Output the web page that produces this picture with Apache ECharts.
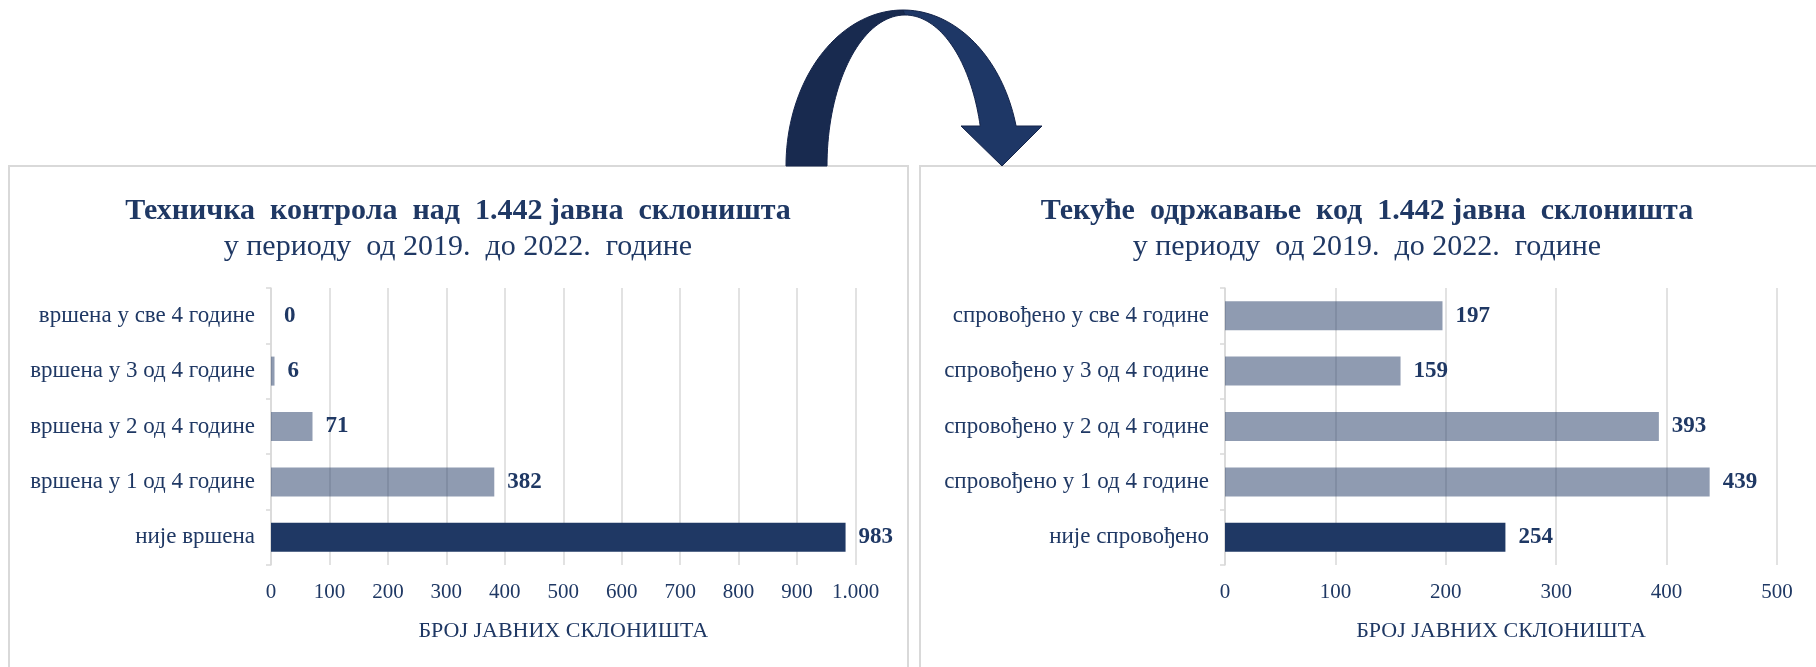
<!DOCTYPE html>
<html>
<head>
<meta charset="utf-8">
<script src="https://cdn.jsdelivr.net/npm/echarts@6/dist/echarts.min.js"></script>
<style>
html,body{margin:0;padding:0;background:#fff;}
#c{width:1816px;height:667px;}
</style>
</head>
<body>
<div id="c"></div>
<script>
// ---- data ----
const leftTitle = 'Техничка  контрола  над  1.442 јавна  склоништа';
const rightTitle = 'Текуће  одржавање  код  1.442 јавна  склоништа';
const subTitle = 'у периоду  од 2019.  до 2022.  године';
const axisName = 'БРОЈ ЈАВНИХ СКЛОНИШТА';

const leftCategories = ['вршена у све 4 године', 'вршена у 3 од 4 године', 'вршена у 2 од 4 године', 'вршена у 1 од 4 године', 'није вршена'];
const leftValues = [0, 6, 71, 382, 983];

const rightCategories = ['спровођено у све 4 године', 'спровођено у 3 од 4 године', 'спровођено у 2 од 4 године', 'спровођено у 1 од 4 године', 'није спровођено'];
const rightValues = [197, 159, 393, 439, 254];

const leftTicks = {min: 0, max: 1000, interval: 100};
const rightTicks = {min: 0, max: 500, interval: 100};

// ---- style ----
const NAVY = '#1F3864';
const LIGHT = 'rgba(31,56,100,0.5)';
const GRIDC = '#d9d9d9';
const FONT = "'Liberation Serif', 'Times New Roman', serif";

function fmt(v){ return v >= 1000 ? (Math.floor(v/1000) + '.' + String(v % 1000).padStart(3,'0')) : String(v); }

function barData(values){
  return values.map((v, i) => ({
    value: v,
    itemStyle: {color: i === values.length - 1 ? NAVY : LIGHT}
  }));
}

function xAxisCfg(gridIndex, t){
  return {
    type: 'value', gridIndex, min: t.min, max: t.max, interval: t.interval,
    name: axisName, nameLocation: 'middle', nameGap: 55,
    nameTextStyle: {fontFamily: FONT, fontSize: 22, color: NAVY},
    axisLine: {show: false}, axisTick: {show: false},
    axisLabel: {fontFamily: FONT, fontSize: 21, color: NAVY, margin: 17, formatter: fmt},
    splitLine: {show: true, lineStyle: {color: GRIDC, width: 1.5}}
  };
}
function yAxisCfg(gridIndex, cats){
  return {
    type: 'category', gridIndex, data: cats, inverse: true,
    axisLine: {show: true, lineStyle: {color: GRIDC, width: 1.5}},
    axisTick: {show: true, length: 5, lineStyle: {color: GRIDC, width: 1.5}},
    axisLabel: {fontFamily: FONT, fontSize: 23, color: NAVY, margin: 16},
    splitLine: {show: false}
  };
}
function seriesCfg(idx, values){
  return {
    type: 'bar', xAxisIndex: idx, yAxisIndex: idx, data: barData(values),
    barWidth: 29,
    label: {show: true, position: 'right', distance: 13, fontFamily: FONT, fontWeight: 'bold', fontSize: 23, color: NAVY},
    silent: true
  };
}

// decorative curved arrow outline (elliptical arcs)
function arcPts(cx, cy, rx, ry, a0, a1, n){
  const pts = [];
  for (let k = 0; k <= n; k++){
    const a = a0 + (a1 - a0) * k / n;
    pts.push([cx + rx * Math.cos(a), cy - ry * Math.sin(a)]);
  }
  return pts;
}
const oCx = 903, oCy = 166, oRx = 117, oRy = 156;
const iCx = 905, iCy = 166, iRx = 78, iRy = 151;
const endO = Math.asin(40 / oRy), endI = Math.asin(40 / iRy);
const leftPart = arcPts(oCx, oCy, oRx, oRy, Math.PI, Math.PI / 2, 40)
  .concat(arcPts(iCx, iCy, iRx, iRy, Math.PI / 2, Math.PI, 40));
const rightOuter = arcPts(oCx, oCy, oRx, oRy, Math.PI / 2, endO, 40);
const rightInner = arcPts(iCx, iCy, iRx, iRy, endI, Math.PI / 2, 40);
const iEnd = rightInner[0];
const rightPart = rightOuter.concat([[1042, 126], [1002, 166], [961, 126]]).concat([[iEnd[0], 126]]).concat(rightInner);

const chart = echarts.init(document.getElementById('c'), null, {renderer: 'canvas'});
chart.setOption({
  backgroundColor: '#ffffff',
  animation: false,
  title: [
    {text: leftTitle, subtext: subTitle, left: 458, top: 196, textAlign: 'center', padding: 0, itemGap: 6,
     textStyle: {fontFamily: FONT, fontSize: 30, fontWeight: 'bold', color: NAVY},
     subtextStyle: {fontFamily: FONT, fontSize: 30, color: NAVY}},
    {text: rightTitle, subtext: subTitle, left: 1367, top: 196, textAlign: 'center', padding: 0, itemGap: 6,
     textStyle: {fontFamily: FONT, fontSize: 30, fontWeight: 'bold', color: NAVY},
     subtextStyle: {fontFamily: FONT, fontSize: 30, color: NAVY}}
  ],
  grid: [
    {left: 271, top: 288, width: 584.5, height: 277, containLabel: false},
    {left: 1225, top: 288, width: 552, height: 277, containLabel: false}
  ],
  xAxis: [xAxisCfg(0, leftTicks), xAxisCfg(1, rightTicks)],
  yAxis: [yAxisCfg(0, leftCategories), yAxisCfg(1, rightCategories)],
  series: [seriesCfg(0, leftValues), seriesCfg(1, rightValues)],
  graphic: [
    {type: 'rect', z: -10, shape: {x: 9, y: 166, width: 899, height: 600}, style: {fill: 'none', stroke: GRIDC, lineWidth: 2}},
    {type: 'rect', z: -10, shape: {x: 920, y: 166, width: 920, height: 600}, style: {fill: 'none', stroke: GRIDC, lineWidth: 2}},
    {type: 'polygon', z: 10, shape: {points: leftPart}, style: {fill: '#182a4f', stroke: '#14244a', lineWidth: 1}},
    {type: 'polygon', z: 10, shape: {points: rightPart}, style: {fill: '#1e3766', stroke: '#14244a', lineWidth: 1}}
  ]
});
</script>
</body>
</html>
